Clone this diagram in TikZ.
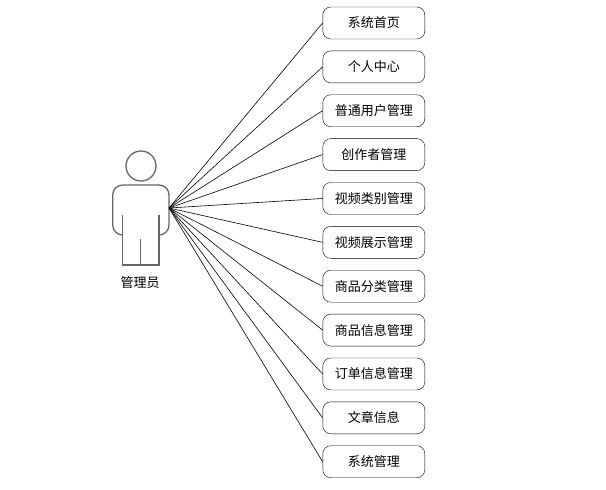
\documentclass[tikz,border=0pt]{standalone}
\usepackage{fontspec}
\setmainfont{Noto Sans CJK SC}

\tikzset{
    usecase/.style={draw, rounded corners=8pt, minimum width=102pt, minimum height=32pt, inner sep=0pt, font=\fontsize{13}{15}\selectfont},
    actorline/.style={draw=black!60, line width=1.3pt}
}

\begin{document}
\begin{tikzpicture}[x=1pt,y=-1pt]
        \useasboundingbox (0,0) rectangle (606,490);
        % actor
        \draw [actorline] (141,166) circle (15);
        \draw [actorline, rounded corners=10pt] (122.7,235) -- (112.7,235) -- (112.7,185) -- (169,185) -- (169,235) -- (159,235);
        \draw [actorline] (122.7,215) -- (122.7,265) -- (159,265) -- (159,215);
        \draw [actorline] (140.8,239) -- (140.8,265);
        \coordinate (hand) at (169,208);
        \node (admin) at (140,283) {\fontsize{13}{15}\selectfont 管理员};
        % use cases
        \foreach \t [count=\i] in {系统首页,个人中心,普通用户管理,创作者管理,视频类别管理,视频展示管理,商品分类管理,商品信息管理,订单信息管理,文章信息,系统管理}{
            \node [usecase] (u\i) at (373.8,{23+43.87*(\i-1)}) {\t};
            \draw [line width=0.6pt] (hand) -- (u\i.west);
        }
    \end{tikzpicture}
\end{document}
